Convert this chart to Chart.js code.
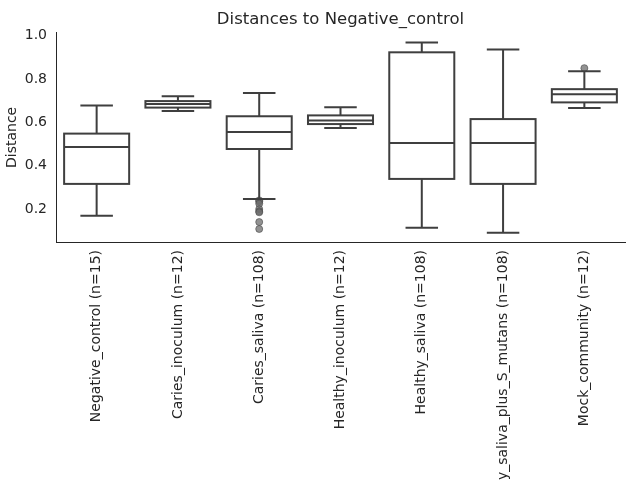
<!DOCTYPE html>
<html>
<head>
<meta charset="utf-8">
<script src="https://cdn.jsdelivr.net/npm/chart.js@4"></script>
<style>
  html, body { margin: 0; padding: 0; background: #fff; }
  #wrap { width: 640px; height: 480px; }
</style>
</head>
<body>
<div id="wrap"><canvas id="grafico" width="640" height="480"></canvas></div>
<script>
const categorias = [
    'Negative_control (n=15)',
    'Caries_inoculum (n=12)',
    'Caries_saliva (n=108)',
    'Healthy_inoculum (n=12)',
    'Healthy_saliva (n=108)',
    'Healthy_saliva_plus_S_mutans (n=108)',
    'Mock_community (n=12)'
];
const bigoteBajo = [0.169, 0.652, 0.246, 0.574, 0.114, 0.091, 0.666];
const cuartil1 = [0.316, 0.668, 0.477, 0.592, 0.339, 0.316, 0.692];
const mediana = [0.486, 0.684, 0.555, 0.608, 0.505, 0.505, 0.729];
const cuartil3 = [0.548, 0.698, 0.628, 0.632, 0.923, 0.615, 0.753];
const bigoteAlto = [0.678, 0.720, 0.735, 0.670, 0.968, 0.936, 0.836];
const atipicos = [
    [],
    [],
    [0.24, 0.235, 0.225, 0.2, 0.19, 0.185, 0.14, 0.108],
    [],
    [],
    [],
    [0.85]
];
const ticksY = [0.2, 0.4, 0.6, 0.8, 1.0];

const colorLinea = '#3f3f3f';
const colorTexto = '#262626';
const fuente = 'DejaVu Sans';

// puntos atipicos como {x: categoria, y: valor}
const puntosAtipicos = [];
atipicos.forEach((lista, i) => {
    lista.forEach(v => puntosAtipicos.push({ x: categorias[i], y: v }));
});

// bigotes y medianas, dibujados despues de las cajas
const pluginBigotes = {
    id: 'bigotes',
    afterDatasetDraw(chart, args) {
        if (args.index !== 0) return;
        const ctx = chart.ctx;
        const xs = chart.scales.x;
        const ys = chart.scales.y;
        const meta = chart.getDatasetMeta(0);
        ctx.save();
        ctx.strokeStyle = colorLinea;
        ctx.lineWidth = 2;
        ctx.lineCap = 'butt';
        categorias.forEach((c, i) => {
            const x = xs.getPixelForValue(i);
            const ancho = meta.data[i].width;
            const mitad = ancho / 2;
            const cap = ancho / 4;
            const yq1 = ys.getPixelForValue(cuartil1[i]);
            const yq3 = ys.getPixelForValue(cuartil3[i]);
            const yLo = ys.getPixelForValue(bigoteBajo[i]);
            const yHi = ys.getPixelForValue(bigoteAlto[i]);
            const yMed = ys.getPixelForValue(mediana[i]);
            ctx.beginPath();
            ctx.moveTo(x, yq1); ctx.lineTo(x, yLo);
            ctx.moveTo(x, yq3); ctx.lineTo(x, yHi);
            ctx.moveTo(x - cap, yLo); ctx.lineTo(x + cap, yLo);
            ctx.moveTo(x - cap, yHi); ctx.lineTo(x + cap, yHi);
            ctx.moveTo(x - mitad, yMed); ctx.lineTo(x + mitad, yMed);
            ctx.stroke();
            // contorno de la caja con el mismo grosor
            ctx.strokeRect(x - mitad, yq3, ancho, yq1 - yq3);
        });
        ctx.restore();
    }
};

const ctx = document.getElementById('grafico').getContext('2d');
new Chart(ctx, {
    type: 'bar',
    data: {
        labels: categorias,
        datasets: [{
            label: 'cajas',
            data: cuartil1.map((q, i) => [q, cuartil3[i]]),
            backgroundColor: '#ffffff',
            borderWidth: 0,
            barPercentage: 0.8,
            categoryPercentage: 1.0
        }, {
            type: 'line',
            label: 'atipicos',
            data: puntosAtipicos,
            showLine: false,
            pointRadius: 3.5,
            pointBackgroundColor: 'rgba(110,110,110,0.75)',
            pointBorderColor: 'rgba(70,70,70,0.6)',
            pointBorderWidth: 1
        }]
    },
    options: {
        responsive: false,
        animation: false,
        layout: { padding: { left: 0, right: 15, top: 0, bottom: 0 } },
        plugins: {
            legend: { display: false },
            tooltip: { enabled: false },
            title: {
                display: true,
                fullSize: false,
                text: 'Distances to Negative_control',
                color: colorTexto,
                font: { family: fuente, size: 16.5, weight: 'normal' },
                padding: { top: 10, bottom: 3 }
            }
        },
        scales: {
            x: {
                grid: { display: false, drawTicks: false },
                border: { display: true, color: colorTexto, width: 1 },
                ticks: {
                    color: colorTexto,
                    font: { family: fuente, size: 14 },
                    minRotation: 90,
                    maxRotation: 90,
                    autoSkip: false,
                    padding: 8
                },
                afterFit(scale) { scale.height = 238; }
            },
            y: {
                min: 0.048,
                max: 1.013,
                grid: { display: false, drawTicks: false },
                border: { display: true, color: colorTexto, width: 1 },
                afterBuildTicks(scale) {
                    scale.ticks = ticksY.map(v => ({ value: v }));
                },
                ticks: {
                    color: colorTexto,
                    font: { family: fuente, size: 14 },
                    padding: 9,
                    callback: v => v.toFixed(1)
                },
                title: {
                    display: true,
                    text: 'Distance',
                    color: colorTexto,
                    font: { family: fuente, size: 14 },
                    padding: { top: 4, bottom: 0 }
                },
                afterFit(scale) { scale.width = 56; }
            }
        }
    },
    plugins: [pluginBigotes]
});
</script>
</body>
</html>
